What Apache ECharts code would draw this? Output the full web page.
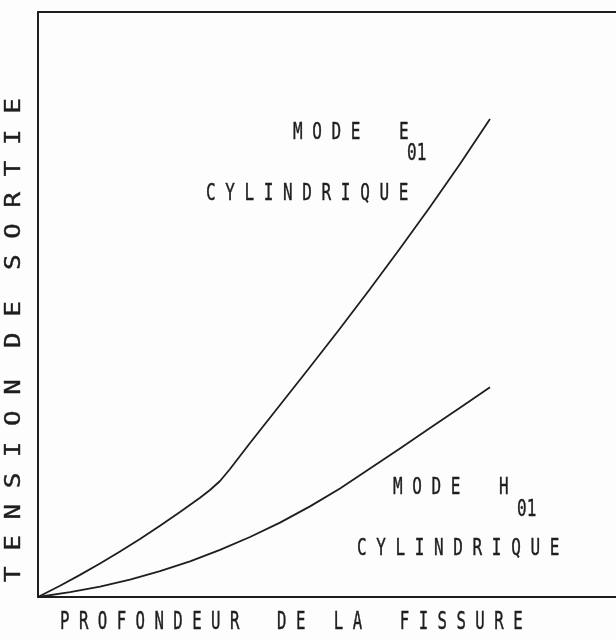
<!DOCTYPE html>
<html>
<head>
<meta charset="utf-8">
<script src="https://cdn.jsdelivr.net/npm/echarts@6/dist/echarts.min.js"></script>
<style>
  html, body { margin: 0; padding: 0; background: #fdfdfd; }
  #chart { width: 616px; height: 641px; }
</style>
</head>
<body>
<div id="chart"></div>
<script>
// courbe mode E01 (profondeur, tension) - unites arbitraires
const modeEX = [0, 3.81, 7.27, 10.73, 14.19, 17.65, 21.11, 24.57, 28.03, 29.76, 31.49, 33.22, 34.95, 36.68, 41.87, 47.06, 52.25, 57.44, 62.63, 67.82, 73.01, 78.20]
const modeEY = [0, 1.93, 3.78, 5.74, 7.79, 9.93, 12.19, 14.53, 16.97, 18.29, 19.83, 21.88, 24.10, 26.32, 32.82, 39.32, 45.90, 52.65, 59.57, 66.67, 74.02, 81.71]
// courbe mode H01
const modeHX = [0, 5.54, 10.73, 15.92, 21.11, 26.30, 31.49, 36.68, 41.87, 47.06, 52.25, 57.44, 62.63, 67.82, 73.01, 78.20]
const modeHY = [0, 0.82, 1.79, 2.97, 4.41, 6.10, 8.05, 10.26, 12.72, 15.49, 18.56, 21.95, 25.38, 28.87, 32.36, 35.85]

const xTitle = 'PROFONDEUR DE LA FISSURE'
const yTitle = 'TENSION DE SORTIE'

// espace les lettres comme sur le traceur
function spaced (txt, wordGap) {
    return txt.split(' ').map(w => w.split('').join(' ')).join(' '.repeat(wordGap))
}

const ink = '#1e1e1e'
const font = '"DejaVu Sans Mono", monospace'

function label (text, x, y, sx, sy, rot) {
    return {
        type: 'text',
        x: x,
        y: y,
        scaleX: sx,
        scaleY: sy,
        rotation: rot || 0,
        style: {
            text: text,
            fontFamily: font,
            fontSize: 16,
            fill: ink,
            stroke: ink,
            lineWidth: 0.3,
            textAlign: 'left',
            textVerticalAlign: 'middle'
        }
    }
}

const chart = echarts.init(document.getElementById('chart'))

const axisLine = { show: true, lineStyle: { color: ink, width: 2 } }

const option = {
    backgroundColor: '#fdfdfd',
    animation: false,
    grid: {
        left: 38,
        top: 12,
        right: 0,
        bottom: 44
    },
    xAxis: [
        {
            type: 'value',
            min: 0,
            max: 100,
            position: 'bottom',
            axisLine: axisLine,
            axisTick: { show: false },
            axisLabel: { show: false },
            splitLine: { show: false }
        },
        {
            type: 'value',
            min: 0,
            max: 100,
            position: 'top',
            axisLine: axisLine,
            axisTick: { show: false },
            axisLabel: { show: false },
            splitLine: { show: false }
        }
    ],
    yAxis: {
        type: 'value',
        min: 0,
        max: 100,
        axisLine: axisLine,
        axisTick: { show: false },
        axisLabel: { show: false },
        splitLine: { show: false }
    },
    series: [
        {
            name: 'E01',
            type: 'line',
            data: modeEX.map((x, i) => [x, modeEY[i]]),
            showSymbol: false,
            smooth: false,
            lineStyle: { color: ink, width: 1.8, join: 'round' }
        },
        {
            name: 'H01',
            type: 'line',
            data: modeHX.map((x, i) => [x, modeHY[i]]),
            showSymbol: false,
            smooth: false,
            lineStyle: { color: ink, width: 1.8, join: 'round' }
        }
    ],
    graphic: [
        label('M O D E    E', 293, 133, 1, 1.45),
        label('01', 407, 154, 1, 1.45),
        label(spaced('CYLINDRIQUE', 3), 206, 194, 1, 1.45),
        label('M O D E    H', 393, 488, 1, 1.45),
        label('01', 517, 510, 1, 1.45),
        label(spaced('CYLINDRIQUE', 3), 357, 549, 1, 1.45),
        label('P R O F O N D E U R    D E   L A    F I S S U R E', 60, 623, 0.98, 1.5),
        label(spaced(yTitle, 2), 14, 582, 1.62, 1.35, Math.PI / 2)
    ]
}

chart.setOption(option)
</script>
</body>
</html>
